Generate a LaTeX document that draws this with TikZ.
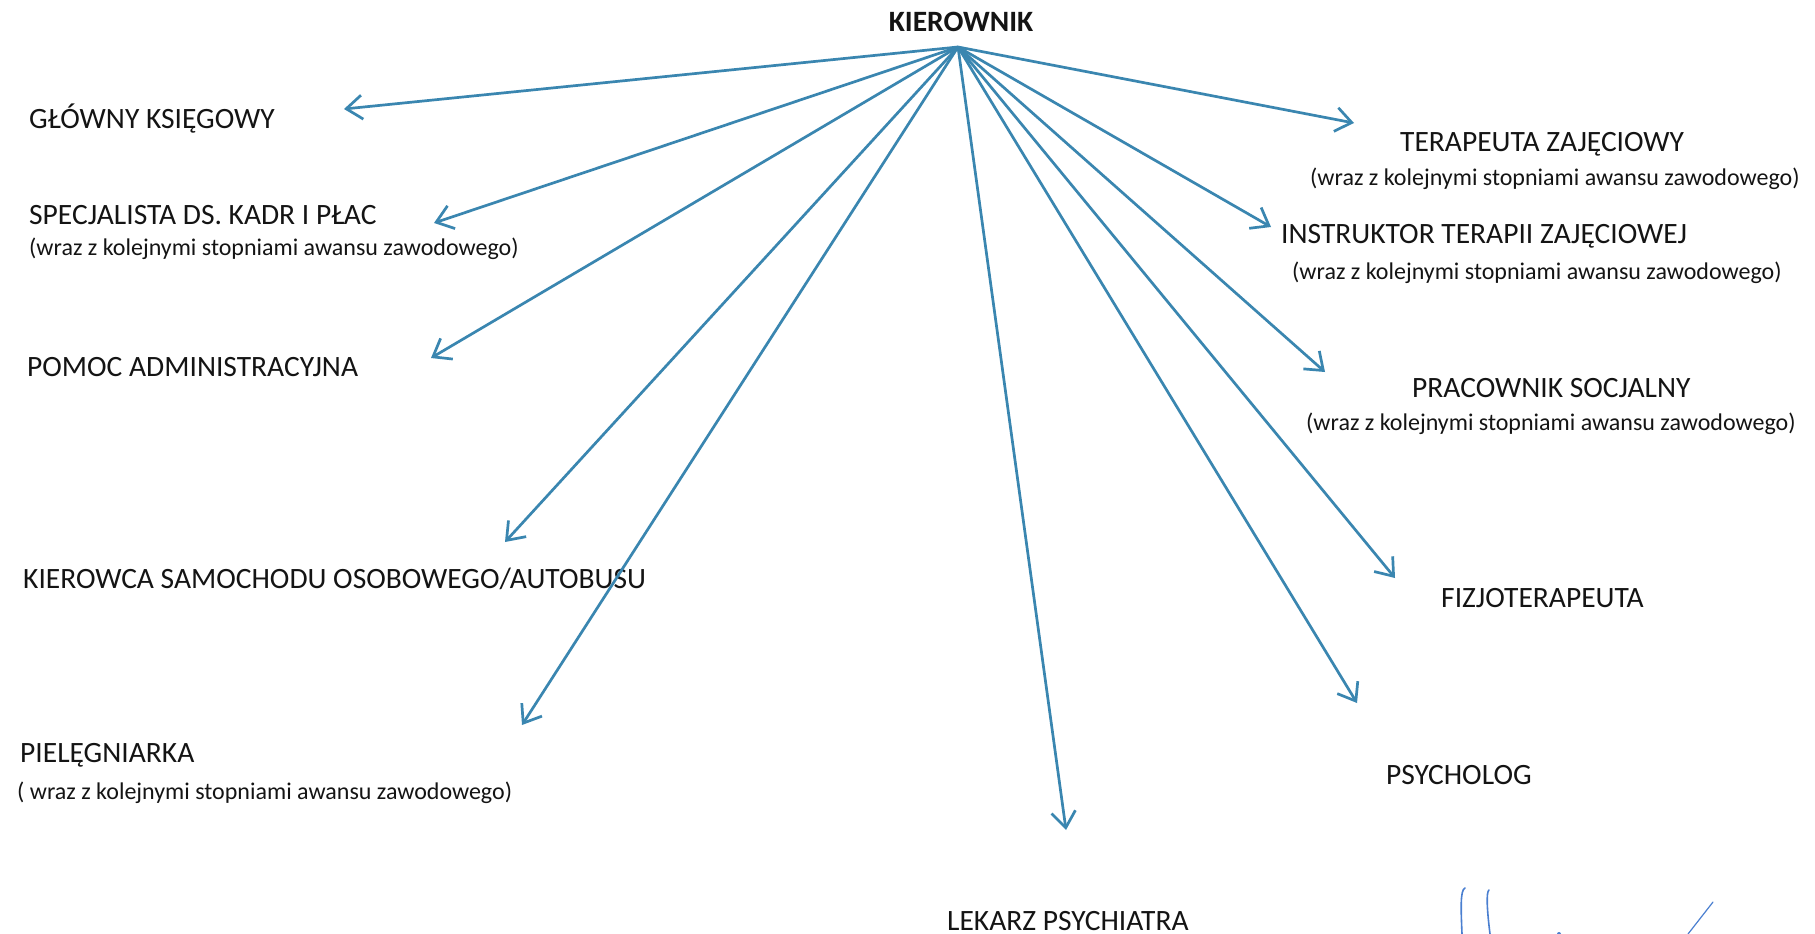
\documentclass[tikz,border=0pt]{standalone}
\usepackage{fontspec}
\setmainfont{Carlito}
\usetikzlibrary{arrows.meta}
\definecolor{arrowblue}{HTML}{3A86B0}
\definecolor{txt}{HTML}{141414}
\definecolor{sigblue}{HTML}{4A7FD0}
\begin{document}
\begin{tikzpicture}[x=1pt,y=-1pt,
  lbl/.style={inner sep=0pt, text=txt, font=\fontsize{29.5}{34}\selectfont, anchor=base west},
  sub/.style={inner sep=0pt, text=txt, font=\fontsize{24}{28}\selectfont, anchor=base west},
  conn/.style={draw=arrowblue, line width=2.7pt, -{Straight Barb[length=16pt,width=24pt,line width=2.7pt]}}]
\useasboundingbox[fill=white] (0,0) rectangle (1815,934);

\node[inner sep=0pt, text=txt, font=\fontsize{29.5}{34}\selectfont\bfseries, anchor=base] (kier) at (961,32) {KIEROWNIK};
\coordinate (hub) at (958,47);

% left column
\node[lbl] (glow) at (29,128) {GŁÓWNY KSIĘGOWY};
\node[lbl] (spec) at (29,224) {SPECJALISTA DS. KADR I PŁAC};
\node[sub] (specs) at (29,255) {(wraz z kolejnymi stopniami awansu zawodowego)};
\node[lbl] (pomoc) at (27,376) {POMOC ADMINISTRACYJNA};
\node[lbl] (kierow) at (23,588) {KIEROWCA SAMOCHODU OSOBOWEGO/AUTOBUSU};
\node[lbl] (piel) at (20,762) {PIELĘGNIARKA};
\node[sub] (piels) at (17,799) {( wraz z kolejnymi stopniami awansu zawodowego)};
\node[lbl] (lek) at (947,930) {LEKARZ PSYCHIATRA};

% right column
\node[lbl] (ter) at (1400,151) {TERAPEUTA ZAJĘCIOWY};
\node[sub] (ters) at (1310,185) {(wraz z kolejnymi stopniami awansu zawodowego)};
\node[lbl] (instr) at (1281,243) {INSTRUKTOR TERAPII ZAJĘCIOWEJ};
\node[sub] (instrs) at (1292,279) {(wraz z kolejnymi stopniami awansu zawodowego)};
\node[lbl] (prac) at (1412,397) {PRACOWNIK SOCJALNY};
\node[sub] (pracs) at (1306,430) {(wraz z kolejnymi stopniami awansu zawodowego)};
\node[lbl] (fizjo) at (1441,607) {FIZJOTERAPEUTA};
\node[lbl] (psych) at (1386,784) {PSYCHOLOG};

% arrow tips
\coordinate (tglow) at (344,109);
\coordinate (tspec) at (434,223);
\coordinate (tpomoc) at (431,358);
\coordinate (tkierow) at (505,542);
\coordinate (tpiel) at (522,725);
\coordinate (tlek) at (1066,830);
\coordinate (tter) at (1354,123);
\coordinate (tinstr) at (1271,227);
\coordinate (tprac) at (1325,372);
\coordinate (tfizjo) at (1395,578);
\coordinate (tpsych) at (1357,703);

\foreach \t in {tglow,tspec,tpomoc,tkierow,tpiel,tlek,tter,tinstr,tprac,tfizjo,tpsych}
  \draw[conn] (hub) -- (\t);

% signature
\draw[sigblue, line width=1.6pt, line cap=round] (1462,934) .. controls (1461,910) and (1460,890) .. (1465,888);
\draw[sigblue, line width=1.6pt, line cap=round] (1490,934) .. controls (1487,910) and (1486,892) .. (1489,890);
\draw[sigblue, line width=1.2pt, line cap=round] (1713,902) -- (1688,934);
\fill[sigblue] (1559,934) circle (2);
\end{tikzpicture}
\end{document}
